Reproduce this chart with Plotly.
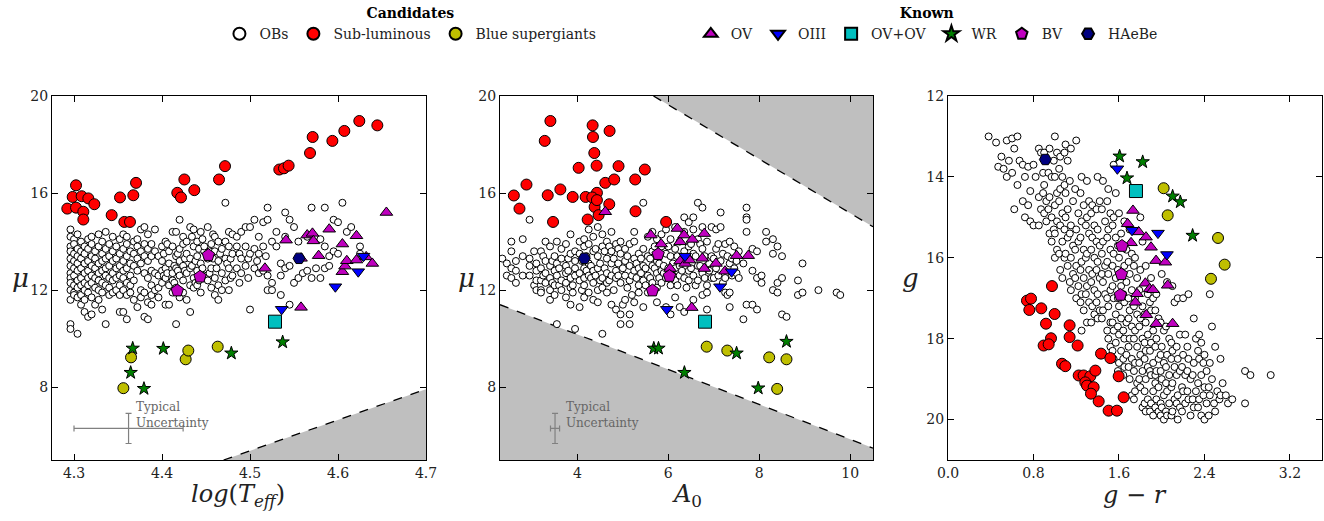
import plotly.graph_objects as go

# ---------------- Panel 1: log(Teff) vs mu ----------------
P1_OB_COLS = [
    (4.296, [14.5, 14.2, 13.8, 13.6, 13.3, 13.0, 12.7, 12.5, 12.3, 12.0, 11.6, 10.6, 10.4]),
    (4.300, [14.1, 13.9, 13.5, 13.2, 12.9, 12.6, 12.2, 11.9, 11.8]),
    (4.304, [14.3, 13.7, 13.4, 13.1, 12.8, 12.4, 12.1, 11.7, 10.2]),
    (4.308, [14.0, 13.6, 13.3, 12.9, 12.5, 12.2, 11.8, 11.4]),
    (4.312, [13.8, 13.5, 13.1, 12.7, 12.3, 12.0, 11.6, 11.1]),
    (4.316, [14.1, 13.7, 13.2, 12.8, 12.5, 12.2, 11.9, 10.9]),
    (4.320, [14.2, 13.9, 13.4, 13.0, 12.6, 12.3, 11.7, 11.0]),
    (4.324, [13.6, 13.3, 12.9, 12.5, 12.1, 11.4]),
    (4.328, [14.3, 13.8, 13.1, 12.7, 12.4, 12.0, 11.6]),
    (4.332, [14.0, 13.5, 13.2, 12.8, 12.3, 11.9, 11.2]),
    (4.336, [14.4, 13.7, 13.3, 12.9, 12.6, 12.2, 10.6]),
    (4.340, [13.9, 13.4, 13.0, 12.5, 12.1, 11.8]),
    (4.344, [14.2, 13.6, 13.2, 12.7, 12.4, 11.9]),
    (4.348, [13.8, 13.3, 12.9, 12.5, 12.0]),
    (4.352, [14.1, 13.5, 13.0, 12.6, 12.2, 11.8, 11.1]),
    (4.356, [14.3, 13.7, 13.2, 12.8, 12.5, 12.0, 11.1]),
    (4.360, [14.2, 13.9, 13.4, 12.9, 12.3, 11.8, 10.8]),
    (4.364, [13.6, 13.1, 12.6, 12.2, 11.9]),
    (4.368, [14.0, 13.5, 13.0, 12.4, 11.6]),
    (4.372, [14.1, 13.8, 13.3, 12.8, 11.3]),
    (4.376, [14.5, 13.6, 13.1, 12.0, 11.7]),
    (4.380, [14.6, 13.9, 13.4, 12.7, 11.9, 10.9]),
    (4.384, [14.3, 13.7, 13.2, 12.5, 11.5, 10.8]),
    (4.388, [13.9, 13.4, 12.8, 12.2, 11.8, 11.4]),
    (4.392, [14.5, 13.6, 12.7, 12.0]),
    (4.396, [13.4, 12.6, 12.1, 11.7]),
    (4.400, [13.8, 13.2, 12.8, 12.3]),
    (4.402, [13.5, 12.6]),
    (4.404, [14.0, 12.9, 12.5, 11.4]),
    (4.406, [13.9, 12.7]),
    (4.408, [13.6, 13.1, 12.2, 11.4]),
    (4.412, [14.4, 13.8, 12.7, 12.4, 11.9]),
    (4.414, [13.0, 12.3]),
    (4.416, [14.4, 13.4, 12.9, 12.1, 10.6]),
    (4.418, [13.5, 12.8]),
    (4.420, [14.9, 13.7, 13.2, 12.6, 11.7]),
    (4.424, [14.2, 13.9, 13.0, 12.4, 11.9]),
    (4.426, [13.3, 12.8]),
    (4.428, [14.0, 13.5, 12.7, 11.6]),
    (4.432, [14.6, 13.3, 12.9, 12.2, 11.1]),
    (4.434, [14.2, 13.0]),
    (4.436, [14.5, 13.8, 12.5, 12.1]),
    (4.438, [13.2, 12.3]),
    (4.440, [14.0, 13.4, 12.8, 12.2]),
    (4.442, [13.7, 12.4]),
    (4.444, [14.4, 13.1, 11.9]),
    (4.446, [14.1, 12.9]),
    (4.448, [13.6, 13.8, 12.6]),
    (4.452, [14.6, 13.3, 12.4]),
    (4.454, [13.6, 12.7]),
    (4.456, [13.9, 12.9, 12.1]),
    (4.458, [14.3, 13.3]),
    (4.460, [14.2, 13.6, 12.5, 11.8]),
    (4.462, [12.9]),
    (4.464, [14.0, 13.2, 12.2, 11.6]),
    (4.466, [13.5]),
    (4.468, [13.7, 12.7, 12.0]),
    (4.472, [15.6, 14.0, 13.3, 12.4]),
    (4.474, [13.1]),
    (4.476, [14.4, 13.8, 12.9, 12.0]),
    (4.478, [13.3, 12.5]),
    (4.480, [14.3, 13.5, 12.6]),
    (4.485, [14.2, 13.8, 12.9]),
    (4.488, [13.5, 12.3]),
    (4.490, [14.4, 13.3, 12.7]),
    (4.495, [13.8, 14.6, 13.0]),
    (4.498, [13.3, 12.5]),
    (4.500, [14.6, 13.5, 11.2]),
    (4.505, [14.9, 13.7, 12.9]),
    (4.508, [13.2]),
    (4.510, [14.2, 13.5, 12.7]),
    (4.515, [14.8, 13.8, 12.8]),
    (4.518, [13.4]),
    (4.520, [15.4, 14.9, 12.6, 12.0]),
    (4.525, [14.0, 12.3, 12.0]),
    (4.530, [14.4, 13.8]),
    (4.535, [13.1, 12.6, 11.8]),
    (4.540, [15.2, 14.2, 12.9]),
    (4.545, [14.9, 13.0, 11.4]),
    (4.550, [14.6, 12.3]),
    (4.555, [14.0, 12.5]),
    (4.560, [12.7]),
    (4.565, [14.2, 12.8]),
    (4.570, [15.4, 12.5]),
    (4.575, [12.9]),
    (4.580, [14.1, 12.5]),
    (4.585, [15.4, 13.8, 12.9]),
    (4.590, [13.4, 13.0]),
    (4.595, [14.9, 13.6]),
    (4.600, [14.8, 13.5]),
    (4.605, [15.6]),
    (4.610, [14.4]),
    (4.615, [14.6]),
    (4.625, [13.8, 13.5]),
]
P1_SUB = [(4.2924, 15.36), (4.2985, 15.84), (4.3023, 16.32), (4.3023, 15.40), (4.3087, 15.87),
          (4.3106, 15.23), (4.3106, 14.91), (4.3163, 15.78), (4.3231, 15.54), (4.3428, 15.09),
          (4.3523, 15.82), (4.3572, 14.81), (4.3636, 14.81), (4.3674, 15.91), (4.3705, 16.42),
          (4.4174, 16.01), (4.4216, 15.82), (4.4254, 16.56), (4.4367, 16.12), (4.4648, 16.56),
          (4.4716, 17.11), (4.5333, 16.97), (4.5386, 17.02), (4.5439, 17.13), (4.5682, 17.65),
          (4.5712, 18.31), (4.5936, 18.15), (4.6072, 18.56), (4.6242, 18.97), (4.6447, 18.79)]
P1_BSG = [(4.3561, 7.96), (4.3648, 9.23), (4.4269, 9.15), (4.4299, 9.51), (4.4633, 9.67)]
P1_OV = [(4.517, 12.90), (4.541, 14.06), (4.558, 11.29), (4.558, 13.31), (4.565, 14.27), (4.571, 14.34),
         (4.572, 14.03), (4.578, 13.42), (4.590, 14.51), (4.605, 13.90), (4.605, 12.76), (4.608, 12.99),
         (4.610, 13.21), (4.621, 14.24), (4.621, 13.24), (4.632, 13.37), (4.639, 13.10), (4.655, 15.20)]
P1_OIII = [(4.536, 11.21), (4.597, 12.14), (4.623, 12.76), (4.629, 13.40)]
P1_OVOV = [(4.5284, 10.70)]
P1_WR = [(4.3667, 9.60), (4.3644, 8.60), (4.3795, 7.94), (4.4015, 9.59), (4.4788, 9.40), (4.5371, 9.86)]
P1_BV = [(4.4527, 13.44), (4.4432, 12.55), (4.4174, 11.98)]
P1_HAEBE = [(4.5557, 13.31)]
P1_LIMIT_X = [4.47, 4.70]
P1_LIMIT_Y = [5.0, 7.92]
P1_ERR = (4.362, 6.30, 0.062, 0.62)

# ---------------- Panel 2: A0 vs mu ----------------
P2_OB_COLS = [
    (2.35, [13.3]), (2.45, [13.1, 12.6]), (2.55, [14.0, 13.6, 12.9, 12.5]), (2.65, [13.2, 12.8, 12.3]),
    (2.80, [14.1, 13.4, 12.6]), (2.95, [14.9, 13.3, 13.0, 12.6]), (3.05, [13.6, 12.2]),
    (3.10, [13.1, 12.8, 12.4, 12.0]), (3.20, [13.6, 12.9, 12.4, 12.0, 11.9]), (3.25, [13.4, 12.6]),
    (3.30, [14.0, 13.2, 12.7, 12.3]), (3.40, [13.8, 13.0, 12.5, 12.0, 11.6]), (3.45, [13.2, 12.3]),
    (3.50, [13.4, 12.8, 12.2, 11.8]), (3.55, [14.0, 13.1, 12.6, 10.6]), (3.60, [12.9, 12.2]),
    (3.65, [13.7, 13.3, 12.4, 12.0]), (3.75, [13.9, 13.0, 12.7, 12.3, 11.7]), (3.80, [13.3, 12.8]),
    (3.85, [14.3, 13.5, 12.5, 12.1, 11.4]), (3.90, [12.2, 11.9]),
    (3.95, [13.6, 13.2, 12.9, 12.6, 10.4]), (4.05, [14.0, 13.5, 12.7, 12.4, 11.3]), (4.10, [13.2, 12.0]),
    (4.15, [14.1, 13.8, 12.9, 12.5, 12.2, 11.7]), (4.20, [13.4, 12.8]),
    (4.25, [14.5, 13.9, 13.1, 12.6, 11.9]), (4.30, [13.0, 12.5]),
    (4.35, [14.2, 13.6, 12.8, 12.3, 11.6]), (4.40, [13.7, 12.6]),
    (4.45, [14.6, 13.4, 12.9, 12.0, 11.5]), (4.50, [13.1, 12.4]),
    (4.55, [14.3, 13.8, 12.5, 12.1, 10.2]), (4.60, [13.6, 12.9]),
    (4.65, [14.0, 13.3, 12.7, 12.3, 11.9]), (4.70, [13.8, 12.4]),
    (4.75, [14.4, 13.6, 13.1, 12.6, 11.4]), (4.80, [13.3, 12.0]), (4.85, [13.9, 12.8, 12.5, 11.2]),
    (4.90, [13.7, 13.1, 12.6]), (4.95, [14.0, 13.5, 12.3, 11.0, 10.6]), (5.00, [12.9, 11.4]),
    (5.05, [13.7, 13.2, 12.6, 11.6]), (5.10, [13.4, 12.1]),
    (5.15, [13.9, 13.0, 12.4, 11.0, 10.6]), (5.20, [12.6, 11.8]),
    (5.25, [14.4, 14.0, 13.3, 12.8, 11.5]), (5.30, [13.1, 12.5]),
    (5.35, [13.5, 12.9, 12.2, 11.9]), (5.40, [13.3, 12.7]), (5.45, [15.6, 13.7, 13.0, 12.4, 11.3]),
    (5.50, [12.9, 12.2]), (5.55, [14.2, 13.4, 12.6, 11.9]), (5.60, [13.3, 12.5]),
    (5.65, [14.4, 13.6, 13.0, 12.3]), (5.70, [13.8, 12.9]),
    (5.75, [14.1, 13.2, 12.7, 12.1, 11.5]), (5.80, [12.5, 13.1]), (5.85, [14.3, 13.8, 12.8, 12.3]),
    (5.90, [13.0, 12.7]), (5.95, [14.5, 13.5, 12.5, 11.3]), (6.00, [13.8, 12.9]),
    (6.05, [14.1, 13.4, 12.2, 11.0]), (6.10, [13.1, 12.6]),
    (6.15, [14.6, 13.7, 12.9, 12.4, 11.7]), (6.20, [13.4, 12.2]), (6.25, [14.0, 13.0, 12.6, 11.3]),
    (6.30, [13.2, 12.8]), (6.35, [15.0, 14.4, 13.6, 12.5, 11.1]), (6.40, [13.3, 12.1]),
    (6.45, [14.8, 13.8, 12.8, 12.4]), (6.50, [13.9, 12.9]),
    (6.55, [15.0, 14.5, 13.5, 12.6, 11.6]), (6.60, [13.4, 12.2]), (6.65, [15.6, 14.1, 13.0, 12.4]),
    (6.70, [13.9, 13.0]), (6.75, [15.4, 14.6, 13.7, 12.7, 11.8]), (6.80, [13.4, 12.5]),
    (6.85, [14.0, 13.0, 12.2, 11.9, 11.2]), (6.90, [13.1, 12.8]),
    (6.95, [14.6, 13.4, 12.5]), (7.00, [13.3, 12.5]), (7.05, [14.5, 13.7, 12.9]), (7.10, [13.9, 12.6]),
    (7.15, [15.2, 14.6, 13.2]), (7.20, [13.5, 12.3]), (7.25, [13.9, 12.5, 11.9]), (7.30, [13.4, 11.8]),
    (7.35, [14.0, 13.1, 11.9, 11.3]), (7.40, [13.3, 12.6]), (7.45, [13.8, 12.9]), (7.50, [13.2, 12.7]),
    (7.55, [13.6, 12.5]), (7.65, [13.1, 10.8]), (7.72, [15.4, 15.0, 14.9, 14.4, 11.4]),
    (7.85, [13.7, 12.8, 11.4]), (7.95, [13.6, 12.5, 11.2]), (8.05, [12.6, 12.3]),
    (8.15, [14.4, 14.0]), (8.30, [14.1, 13.5, 12.0]), (8.40, [13.8, 12.3, 11.9]),
    (8.50, [13.4, 12.5, 11.0]), (8.60, [10.9]), (8.85, [12.4, 11.8]), (8.95, [13.1, 11.9]),
    (9.30, [12.0]), (9.70, [11.9]), (9.78, [11.8]),
]
P2_SUB = [(2.604, 15.90), (2.728, 15.36), (2.882, 16.35), (3.284, 18.15), (3.349, 15.91), (3.408, 18.97),
          (3.466, 14.81), (3.627, 16.15), (3.898, 15.84), (4.029, 17.04), (4.183, 15.84), (4.227, 14.91),
          (4.336, 18.79), (4.344, 18.31), (4.373, 17.65), (4.424, 17.13), (4.431, 16.01), (4.329, 15.82),
          (4.380, 15.43), (4.431, 15.71), (4.468, 15.09), (4.614, 16.42), (4.709, 18.56), (4.702, 15.54),
          (4.811, 16.56), (4.906, 17.11), (5.272, 16.56), (5.279, 15.25), (5.484, 16.97), (5.952, 14.81)]
P2_BSG = [(6.844, 9.67), (7.297, 9.51), (8.218, 9.23), (8.598, 9.15), (8.393, 7.93)]
P2_OV = [(4.614, 15.23), (5.615, 14.27), (5.842, 13.90), (6.039, 12.89), (6.200, 14.54), (6.259, 13.99),
         (6.259, 13.20), (6.346, 14.27), (6.368, 13.10), (6.463, 13.24), (6.529, 14.09), (6.515, 11.28),
         (6.748, 13.31), (6.792, 12.89), (6.792, 14.33), (7.048, 13.10), (7.246, 12.78), (7.501, 13.42),
         (7.757, 13.42)]
P2_OIII = [(5.966, 11.21), (7.136, 12.14), (7.392, 12.76), (6.368, 13.40)]
P2_OVOV = [(6.807, 10.70)]
P2_WR = [(5.681, 9.60), (5.784, 9.60), (6.354, 8.60), (7.501, 9.40), (7.977, 7.96), (8.598, 9.88)]
P2_BV = [(5.776, 13.48), (6.025, 12.58), (5.652, 11.98)]
P2_HAEBE = [(4.154, 13.31)]
P2_UPPER_X = [5.674, 10.5]
P2_UPPER_Y = [20.0, 14.61]
P2_LOWER_X = [2.3, 10.5]
P2_LOWER_Y = [11.40, 5.49]
P2_ERR = (3.51, 6.30, 0.10, 0.62)

# ---------------- Panel 3: g-r vs g ----------------
P3_OB_COLS = [
    (0.38, [13.0]), (0.45, [13.15]), (0.47, [13.75]), (0.50, [13.5]), (0.52, [13.8]),
    (0.55, [13.1, 14.0]), (0.57, [13.6]), (0.60, [13.05, 13.9]), (0.62, [13.3, 14.8]),
    (0.65, [13.0, 14.2]), (0.67, [13.6]), (0.70, [13.7, 14.6]), (0.72, [14.0, 15.0]),
    (0.75, [13.75, 14.7]), (0.77, [14.35, 15.1]), (0.80, [13.7, 15.2]), (0.82, [14.0]),
    (0.85, [13.3, 14.5, 15.2]), (0.87, [13.4, 14.8]), (0.89, [13.9, 14.4]), (0.90, [13.4, 14.2, 14.9]),
    (0.92, [13.6, 14.6, 15.1]), (0.94, [13.9, 14.8]), (0.95, [13.3, 14.5, 15.4]), (0.97, [14.0, 15.0, 15.6]),
    (0.99, [13.6, 15.3]), (1.00, [13.0, 14.0, 14.7, 15.4, 16.0]), (1.02, [13.4, 14.4, 15.1, 15.8]),
    (1.04, [13.8, 14.6, 15.9]), (1.05, [13.5, 14.3, 15.2, 16.3]), (1.07, [14.0, 14.9, 15.6, 16.5]),
    (1.09, [13.4, 14.2, 15.3, 16.0]), (1.10, [13.2, 14.4, 15.0, 15.9]), (1.12, [13.6, 14.8, 15.5, 16.2]),
    (1.14, [14.1, 15.4, 16.6]), (1.15, [13.3, 15.2, 16.0, 16.8]), (1.17, [14.6, 15.7, 16.4]),
    (1.19, [14.3, 15.8, 16.5]), (1.20, [13.1, 15.3, 16.2, 17.0]), (1.22, [14.9, 15.6, 16.7]),
    (1.24, [14.4, 15.5, 16.3, 17.1]), (1.25, [14.0, 15.1, 16.1, 16.9, 17.8]), (1.27, [14.7, 15.8, 16.5, 17.3]),
    (1.29, [15.2, 16.0, 16.9]), (1.30, [14.1, 15.0, 15.9, 16.7, 17.6]), (1.32, [14.6, 15.4, 16.3, 17.1]),
    (1.34, [14.9, 15.8, 16.6, 17.6]), (1.35, [14.7, 15.5, 16.4, 17.2]), (1.37, [15.2, 16.0, 16.8, 17.4]),
    (1.39, [14.8, 15.6, 16.3, 17.1]), (1.40, [14.0, 15.3, 16.1, 16.9, 17.5]), (1.42, [14.6, 15.7, 16.5, 17.3]),
    (1.44, [14.8, 15.9, 16.4, 17.5]), (1.45, [14.1, 15.6, 16.6, 17.3]), (1.47, [15.1, 16.2, 16.9]),
    (1.49, [14.6, 15.5, 16.1, 17.0, 17.8]), (1.50, [14.3, 15.3, 16.4, 17.2, 18.0]),
    (1.52, [14.9, 15.8, 16.8, 17.6, 18.2]), (1.54, [15.2, 16.2, 16.7, 17.6, 18.3]),
    (1.55, [13.7, 15.0, 15.9, 17.0, 17.8, 18.5]), (1.57, [14.4, 15.5, 16.5, 17.4, 18.1]),
    (1.59, [15.7, 16.3, 17.0, 17.7, 18.8]), (1.60, [14.9, 16.0, 17.2, 17.9, 18.6]),
    (1.62, [15.4, 16.7, 17.5, 18.3]), (1.64, [16.4, 16.9, 17.8, 18.5, 18.9]),
    (1.65, [15.1, 16.2, 17.1, 18.0, 18.7]), (1.67, [15.8, 16.6, 17.6, 18.4]),
    (1.69, [16.1, 17.0, 17.5, 18.2, 18.7]), (1.70, [15.3, 16.4, 17.3, 18.0, 19.0]),
    (1.72, [15.9, 16.8, 17.7, 18.5, 19.4]), (1.74, [16.2, 17.2, 18.0, 18.8, 19.5]),
    (1.75, [16.0, 17.0, 17.8, 18.6, 19.3]), (1.77, [16.5, 17.4, 18.2, 19.1]),
    (1.79, [16.8, 17.7, 18.6, 19.0]), (1.80, [15.0, 16.3, 17.5, 18.4, 19.2]),
    (1.82, [15.6, 17.2, 18.0, 18.8, 19.7]), (1.84, [17.4, 18.1, 18.5, 19.3, 19.6]),
    (1.85, [16.2, 17.6, 18.3, 19.0, 19.8]), (1.87, [16.9, 17.9, 18.7, 19.5]),
    (1.89, [17.1, 18.3, 18.8, 19.8]), (1.90, [16.5, 17.3, 18.1, 18.9, 19.6]),
    (1.92, [17.0, 17.8, 18.6, 19.3, 19.9]), (1.94, [17.3, 18.2, 18.9, 19.1, 19.7]),
    (1.95, [16.9, 18.0, 18.8, 19.5]), (1.97, [17.5, 18.5, 19.2, 19.8]),
    (1.99, [17.6, 18.4, 18.8, 19.6, 19.9]), (2.00, [16.4, 18.2, 19.0, 19.7]),
    (2.02, [17.8, 18.6, 19.4, 20.0]), (2.04, [17.7, 18.7, 19.1, 19.8]),
    (2.05, [16.6, 18.4, 19.3, 19.9]), (2.07, [18.0, 18.9, 19.6]), (2.09, [18.1, 18.5, 19.2, 19.9]),
    (2.10, [16.7, 18.3, 19.1, 19.8]), (2.12, [17.1, 18.7, 19.5]), (2.14, [18.2, 18.9, 19.6]),
    (2.15, [17.0, 18.5, 19.4, 20.0]), (2.17, [17.9, 18.8, 19.7]), (2.19, [18.7, 19.2, 19.8]),
    (2.20, [17.0, 18.4, 19.3]), (2.22, [17.9, 18.9, 19.6]), (2.24, [18.2, 18.8, 19.3]),
    (2.25, [16.9, 18.5, 19.5]), (2.27, [19.0, 19.9]), (2.29, [18.9, 19.5]),
    (2.30, [17.5, 18.6, 19.7]), (2.32, [18.0, 19.3]), (2.34, [18.3, 19.1, 19.7]),
    (2.35, [17.9, 18.5, 19.5]), (2.37, [18.1, 18.9, 19.9]), (2.39, [18.6, 19.4]),
    (2.40, [18.4, 19.2, 20.0]), (2.42, [18.8, 19.6]), (2.44, [19.2, 19.9]),
    (2.45, [16.9, 18.6, 19.4]), (2.47, [17.7, 19.0]), (2.49, [19.6]),
    (2.50, [18.2, 19.8]), (2.52, [19.3]), (2.54, [19.5]), (2.55, [18.5, 19.4]), (2.57, [19.1]),
    (2.60, [19.4]), (2.62, [19.6]), (2.66, [19.5]),
    (2.78, [18.8, 19.6]), (2.83, [18.9]), (3.02, [18.9]),
]
P3_SUB = [(0.739, 17.06), (0.777, 17.01), (0.761, 17.29), (0.873, 17.25), (0.917, 17.63), (0.973, 16.70),
          (0.998, 17.39), (0.964, 17.99), (0.895, 18.17), (0.942, 18.14), (1.138, 17.67), (1.138, 17.96),
          (1.213, 18.17), (1.067, 18.62), (1.098, 18.68), (1.223, 18.91), (1.269, 18.91), (1.332, 18.93),
          (1.285, 19.08), (1.301, 19.16), (1.363, 19.20), (1.379, 18.79), (1.338, 19.36), (1.410, 19.55),
          (1.432, 18.37), (1.519, 18.48), (1.503, 19.78), (1.581, 19.78), (1.597, 18.93), (1.644, 19.45)]
P3_BSG = [(2.018, 14.28), (2.056, 14.95), (2.527, 15.51), (2.589, 16.17), (2.461, 16.52)]
P3_OV = [(1.731, 14.83), (1.681, 15.16), (1.784, 15.36), (1.853, 15.49), (1.713, 15.63), (1.900, 15.74),
         (1.947, 16.07), (2.034, 16.11), (1.847, 16.63), (1.887, 16.77), (1.918, 16.79), (2.056, 16.68),
         (1.769, 16.89), (1.753, 17.10), (1.856, 17.41), (1.949, 17.63), (2.102, 17.63)]
P3_OIII = [(1.585, 13.80), (1.722, 15.32), (1.965, 15.39), (2.049, 15.92)]
P3_OVOV = [(1.759, 14.35)]
P3_WR = [(1.606, 13.49), (1.822, 13.63), (1.675, 14.03), (2.102, 14.48), (2.174, 14.62), (2.289, 15.45)]
P3_BV = [(1.628, 15.71), (1.622, 16.41), (1.613, 16.92)]
P3_HAEBE = [(0.911, 13.57)]

TICKS_P1_X = [4.3, 4.4, 4.5, 4.6, 4.7]
TICKS_P2_X = [4, 6, 8, 10]
TICKS_P3_X = [0.0, 0.8, 1.6, 2.4, 3.2]
TICKS_MU = [8, 12, 16, 20]
TICKS_G = [12, 14, 16, 18, 20]

# ---------------- styles ----------------
FONT = "DejaVu Serif"
STYLES = {
    "OBs": dict(symbol="circle", color="white", size=7, legend="legend"),
    "Sub-luminous": dict(symbol="circle", color="#ff0000", size=11, legend="legend"),
    "Blue supergiants": dict(symbol="circle", color="#bfbf00", size=11, legend="legend"),
    "OV": dict(symbol="triangle-up", color="#bf00bf", size=11, legend="legend2"),
    "OIII": dict(symbol="triangle-down", color="#0000ff", size=11, legend="legend2"),
    "OV+OV": dict(symbol="square", color="#00bfbf", size=13, legend="legend2"),
    "WR": dict(symbol="star", color="#007f00", size=10, legend="legend2"),
    "BV": dict(symbol="pentagon", color="#bf00bf", size=13, legend="legend2"),
    "HAeBe": dict(symbol="hexagon2", color="#000080", size=12, legend="legend2"),
}


def cols_xy(cols):
    xs, ys = [], []
    for x, yl in cols:
        for y in yl:
            xs.append(x)
            ys.append(y)
    return xs, ys


def pairs_xy(pairs):
    return [p[0] for p in pairs], [p[1] for p in pairs]


fig = go.Figure()


def add_fill(xs, ys, xa, ya):
    fig.add_trace(go.Scatter(x=xs, y=ys, mode="lines", fill="toself", fillcolor="#bfbfbf",
                             line=dict(width=0), hoverinfo="skip", showlegend=False,
                             xaxis=xa, yaxis=ya))


def add_dash(xs, ys, xa, ya):
    fig.add_trace(go.Scatter(x=xs, y=ys, mode="lines", line=dict(color="black", width=1.3, dash="dash"),
                             hoverinfo="skip", showlegend=False, xaxis=xa, yaxis=ya))


def add_markers(name, xs, ys, xa, ya, show):
    st = STYLES[name]
    fig.add_trace(go.Scatter(
        x=xs, y=ys, mode="markers", name=name, legend=st["legend"], showlegend=show,
        marker=dict(symbol=st["symbol"], color=st["color"], size=st["size"],
                    line=dict(color="black", width=1)),
        xaxis=xa, yaxis=ya))


def add_err(err, xa, ya, text_x):
    x0, y0, ex, ey = err
    fig.add_trace(go.Scatter(
        x=[x0], y=[y0], mode="markers", marker=dict(size=1, color="rgba(0,0,0,0)"),
        error_x=dict(type="data", array=[ex], color="#808080", thickness=1.2, width=3),
        error_y=dict(type="data", array=[ey], color="#808080", thickness=1.2, width=3),
        showlegend=False, hoverinfo="skip", xaxis=xa, yaxis=ya))
    fig.add_annotation(x=text_x, y=6.85, xref=xa, yref=ya, text="Typical<br>Uncertainty",
                       showarrow=False, xanchor="left", yanchor="middle", align="left",
                       font=dict(family=FONT, size=12, color="#666666"))


# shaded exclusion regions
add_fill([P1_LIMIT_X[0], P1_LIMIT_X[1], P1_LIMIT_X[1]], [P1_LIMIT_Y[0], P1_LIMIT_Y[1], P1_LIMIT_Y[0]], "x", "y")
add_dash(P1_LIMIT_X, P1_LIMIT_Y, "x", "y")
add_fill([P2_UPPER_X[0], P2_UPPER_X[1], P2_UPPER_X[1]], [P2_UPPER_Y[0], P2_UPPER_Y[1], P2_UPPER_Y[0]], "x2", "y2")
add_fill([P2_LOWER_X[0], P2_LOWER_X[1], P2_LOWER_X[1], P2_LOWER_X[0]],
         [P2_LOWER_Y[0], P2_LOWER_Y[1], 5.0, 5.0], "x2", "y2")
add_dash(P2_UPPER_X, P2_UPPER_Y, "x2", "y2")
add_dash(P2_LOWER_X, P2_LOWER_Y, "x2", "y2")

panels = [
    ("x", "y", P1_OB_COLS, P1_SUB, P1_BSG, P1_OV, P1_OIII, P1_OVOV, P1_WR, P1_BV, P1_HAEBE, True),
    ("x2", "y2", P2_OB_COLS, P2_SUB, P2_BSG, P2_OV, P2_OIII, P2_OVOV, P2_WR, P2_BV, P2_HAEBE, False),
    ("x3", "y3", P3_OB_COLS, P3_SUB, P3_BSG, P3_OV, P3_OIII, P3_OVOV, P3_WR, P3_BV, P3_HAEBE, False),
]
for xa, ya, ob, sub, bsg, ov, oiii, ovov, wr, bv, hae, show in panels:
    x, y = cols_xy(ob)
    add_markers("OBs", x, y, xa, ya, show)
    for name, data in [("Sub-luminous", sub), ("Blue supergiants", bsg), ("OV", ov), ("OIII", oiii),
                       ("OV+OV", ovov), ("WR", wr), ("BV", bv), ("HAeBe", hae)]:
        x, y = pairs_xy(data)
        add_markers(name, x, y, xa, ya, show)

add_err(P1_ERR, "x", "y", 4.368)
add_err(P2_ERR, "x2", "y2", 3.715)

W, H = 1324, 521
YD = [1 - 460 / H, 1 - 96 / H]
axis_common = dict(showline=True, linecolor="black", linewidth=1.2, mirror="allticks", ticks="inside",
                   ticklen=6, tickwidth=1, tickcolor="black", showgrid=False, zeroline=False,
                   automargin=False,
                   tickfont=dict(family=FONT, size=14, color="#222222"))

legend_common = dict(orientation="h", y=1.0, yanchor="top", bgcolor="rgba(0,0,0,0)",
                     itemsizing="constant", font=dict(family=FONT, size=14, color="#222222"))

fig.update_layout(
    width=W, height=H, autosize=False, margin=dict(l=0, r=0, t=0, b=0, pad=0),
    plot_bgcolor="white", paper_bgcolor="white",
    xaxis=dict(domain=[52 / W, 426 / W], range=[4.275, 4.7], tickvals=TICKS_P1_X, tickformat=".1f",
               anchor="y", **axis_common),
    yaxis=dict(domain=YD, range=[5, 20], tickvals=TICKS_MU, anchor="x", **axis_common),
    xaxis2=dict(domain=[500 / W, 873 / W], range=[2.3, 10.5], tickvals=TICKS_P2_X, anchor="y2", **axis_common),
    yaxis2=dict(domain=YD, range=[5, 20], tickvals=TICKS_MU, anchor="x2", **axis_common),
    xaxis3=dict(domain=[948 / W, 1322 / W], range=[0, 3.5], tickvals=TICKS_P3_X, tickformat=".1f",
                anchor="y3", **axis_common),
    yaxis3=dict(domain=YD, range=[21, 12], tickvals=TICKS_G, anchor="x3", **axis_common),
    legend=dict(title=dict(text="<b>Candidates</b>", side="top center",
                           font=dict(family=FONT, size=14, color="black")),
                x=0.31, xanchor="center", **legend_common),
    legend2=dict(title=dict(text="<b>Known</b>", side="top center",
                            font=dict(family=FONT, size=14, color="black")),
                 x=0.70, xanchor="center", **legend_common),
)

title_font = dict(family=FONT, size=24, color="#222222")
xt_y = 1 - 495 / H
for txt, xc in [("<i>log</i>(<i>T</i><sub><i>eff</i></sub>)", 238), ("<i>A</i><sub>0</sub>", 687),
                ("<i>g</i> − <i>r</i>", 1135)]:
    fig.add_annotation(x=xc / W, y=xt_y, xref="paper", yref="paper", text=txt, showarrow=False,
                       xanchor="center", yanchor="middle", font=title_font)
ymid = 1 - 278 / H
for txt, xc in [("<i>μ</i>", 20), ("<i>μ</i>", 466), ("<i>g</i>", 910)]:
    fig.add_annotation(x=xc / W, y=ymid, xref="paper", yref="paper", text=txt, showarrow=False,
                       xanchor="center", yanchor="middle", font=dict(family=FONT, size=26, color="#222222"))

fig.write_html("out.html")
